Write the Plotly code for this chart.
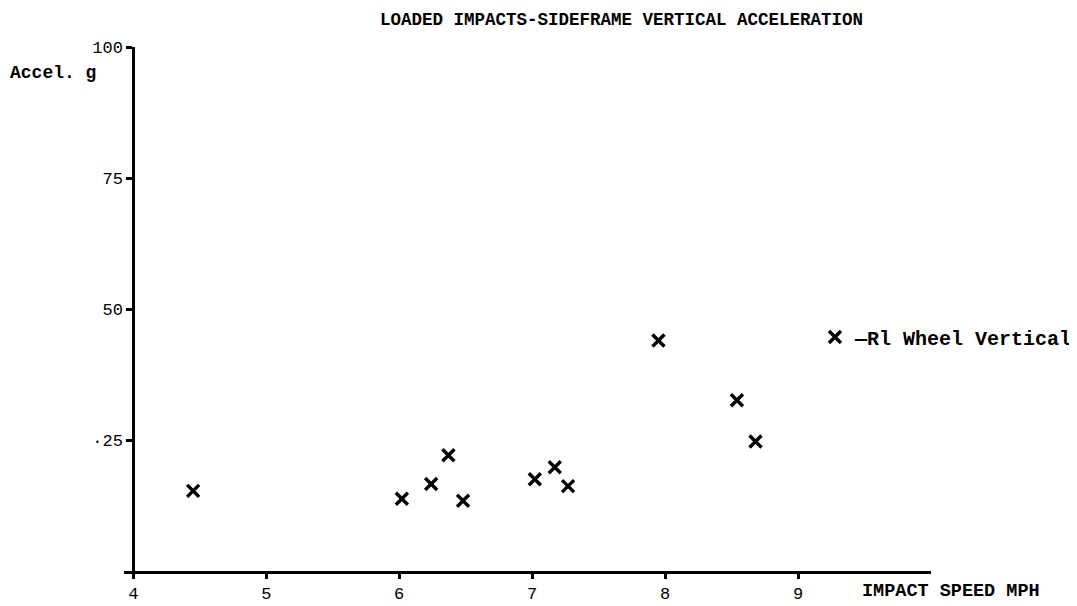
import plotly.graph_objects as go

# Data
speed_mph = [4.45, 6.02, 6.24, 6.37, 6.48, 7.02, 7.17, 7.27, 7.95, 8.54, 8.68]
accel_g = [15.3, 13.8, 16.6, 22.1, 13.4, 17.5, 19.8, 16.2, 44.0, 32.6, 24.7]

x_ticks = [4, 5, 6, 7, 8, 9]
x_tick_labels = ["4", "5", "6", "7", "8", "9"]
y_ticks = [25, 50, 75, 100]
y_tick_labels = ["·25", "50", "75", "100"]

series_name = "—Rl Wheel Vertical"
title_text = "LOADED IMPACTS-SIDEFRAME VERTICAL ACCELERATION"
x_title = "IMPACT SPEED MPH"
y_title = "Accel. g"

FONT = "Liberation Mono"

fig = go.Figure()
fig.add_trace(go.Scatter(
    x=speed_mph, y=accel_g, mode="markers", name=series_name,
    marker=dict(symbol="x-thin", size=12, color="black",
                line=dict(width=3.4, color="black")),
    cliponaxis=False,
))

fig.update_layout(
    width=1077, height=606,
    margin=dict(l=116, r=154, t=39, b=43, autoexpand=False),
    paper_bgcolor="white", plot_bgcolor="white",
    font=dict(family=FONT, size=17, color="black"),
    showlegend=True,
    legend=dict(x=(815 - 124) / 807, y=(571 - 337) / 524, xanchor="left", yanchor="middle",
                font=dict(family=FONT, size=20, color="black", weight="bold"),
                bgcolor="rgba(0,0,0,0)", borderwidth=0, itemwidth=30),
    xaxis=dict(range=[3.93, 10.0], tickvals=x_ticks, ticktext=x_tick_labels,
               showline=True, linecolor="black", linewidth=2.5,
               ticks="outside", ticklen=5, tickwidth=2.5, tickcolor="black",
               showgrid=False, zeroline=False, automargin=False,
               tickfont=dict(family=FONT, size=17, color="black")),
    yaxis=dict(range=[0, 100], tickvals=y_ticks, ticktext=y_tick_labels,
               anchor="free", position=9 / 807,
               showline=True, linecolor="black", linewidth=2.5,
               ticks="outside", ticklen=6, tickwidth=2.5, tickcolor="black",
               showgrid=False, zeroline=False, automargin=False,
               tickfont=dict(family=FONT, size=17, color="black")),
    annotations=[
        dict(text=title_text, xref="paper", yref="paper",
             x=(621 - 124) / 807, y=1 + 39 / 524, xanchor="center", yanchor="top",
             showarrow=False, font=dict(family=FONT, size=17.5, color="black", weight="bold")),
        dict(text=x_title, xref="paper", yref="paper",
             x=(860 - 124) / 807, y=(571 - 591) / 524, xanchor="left", yanchor="middle",
             showarrow=False, font=dict(family=FONT, size=18.5, color="black", weight="bold")),
        dict(text=y_title, xref="paper", yref="paper",
             x=(8 - 124) / 807, y=(571 - 73) / 524, xanchor="left", yanchor="middle",
             showarrow=False, font=dict(family=FONT, size=18, color="black", weight="bold")),
    ],
)

fig.write_html("out.html")
